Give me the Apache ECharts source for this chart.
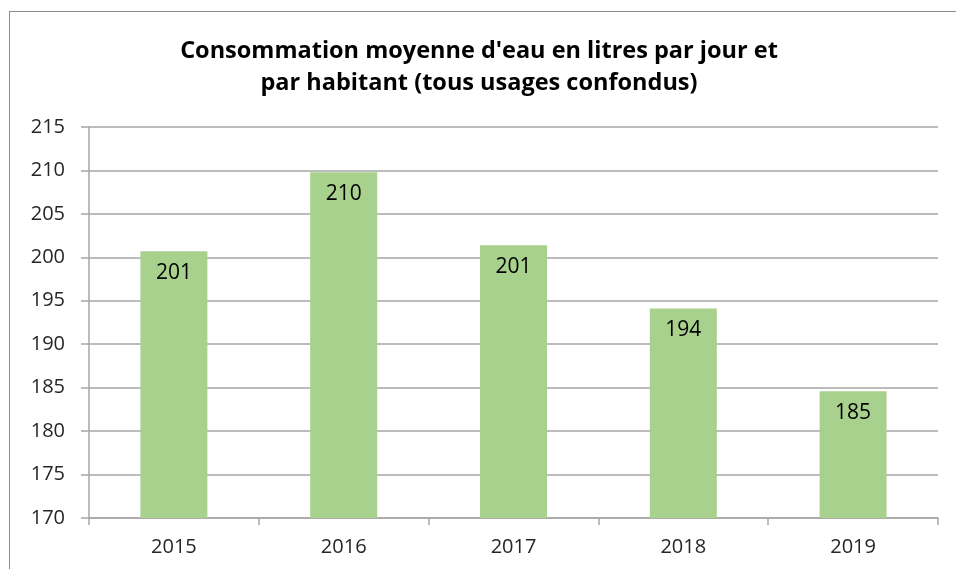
<!DOCTYPE html>
<html>
<head>
<meta charset="utf-8">
<script src="https://cdn.jsdelivr.net/npm/echarts@6/dist/echarts.min.js"></script>
<style>
    html, body {
        margin: 0;
        padding: 0;
        background: #fff;
    }
    #frame {
        position: absolute;
        left: 9px;
        top: 11px;
        width: 960px;
        height: 570px;
        border-left: 1px solid #8c8c8c;
        border-top: 1px solid #8c8c8c;
    }
    #main {
        position: absolute;
        left: 0;
        top: 0;
        width: 956px;
        height: 569px;
    }
</style>
</head>
<body>
<div id="frame"></div>
<div id="main"></div>
<script>
const years = ['2015', '2016', '2017', '2018', '2019'];
const conso = [200.7, 209.8, 201.4, 194.1, 184.6];
const labels = ['201', '210', '201', '194', '185'];

const chart = echarts.init(document.getElementById('main'));

const option = {
    animation: false,
    textStyle: {
        fontFamily: 'Open Sans'
    },
    title: {
        text: "Consommation moyenne d'eau en litres par jour et\npar habitant (tous usages confondus)",
        left: 474,
        top: 30,
        textAlign: 'center',
        textStyle: {
            fontSize: 23.5,
            fontWeight: 'bold',
            color: '#000',
            lineHeight: 32,
            fontFamily: 'Open Sans'
        }
    },
    grid: {
        left: 89,
        right: 18,
        top: 127,
        bottom: 51
    },
    xAxis: {
        type: 'category',
        data: years,
        axisLine: {
            lineStyle: { color: '#a6a6a6', width: 1.5 }
        },
        axisTick: {
            show: true,
            alignWithLabel: false,
            length: 7,
            lineStyle: { color: '#a6a6a6', width: 1.5 }
        },
        axisLabel: {
            fontSize: 20,
            color: '#262626',
            margin: 19
        }
    },
    yAxis: {
        type: 'value',
        min: 170,
        max: 215,
        interval: 5,
        axisLine: {
            show: true,
            lineStyle: { color: '#a6a6a6', width: 1.5 }
        },
        axisTick: {
            show: true,
            length: 8,
            lineStyle: { color: '#a6a6a6', width: 1.5 }
        },
        axisLabel: {
            fontSize: 20,
            color: '#262626',
            margin: 24
        },
        splitLine: {
            lineStyle: { color: '#a6a6a6', width: 1.5 }
        }
    },
    series: [
        {
            type: 'bar',
            data: conso,
            barWidth: 67,
            itemStyle: { color: '#a9d18e' },
            label: {
                show: true,
                position: 'insideTop',
                distance: 11,
                fontSize: 21,
                color: '#000',
                formatter: p => labels[p.dataIndex]
            }
        }
    ]
};

chart.setOption(option);
</script>
</body>
</html>
